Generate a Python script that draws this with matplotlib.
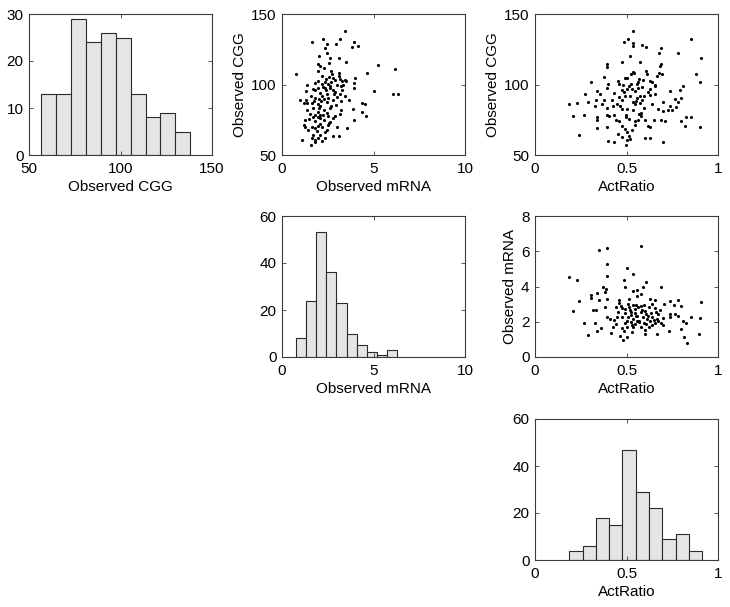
import matplotlib
matplotlib.use("Agg")
import matplotlib.pyplot as plt
import numpy as np

plt.rcParams['font.family'] = ['Liberation Sans', 'DejaVu Sans']

# ---------------- Data ----------------
cgg_label = "Observed CGG"
mrna_label = "Observed mRNA"
act_label = "ActRatio"

cgg_edges = [56.7, 64.9, 73.0, 81.2, 89.3, 97.5, 105.6, 113.7, 121.8, 129.9, 138.0]
cgg_counts = [13, 13, 29, 24, 26, 25, 13, 8, 9, 5]

mrna_edges = [0.74, 1.30, 1.86, 2.41, 2.97, 3.53, 4.08, 4.64, 5.19, 5.75, 6.30]
mrna_counts = [8, 24, 53, 36, 23, 10, 5, 2, 1, 3]

act_edges = [0.187, 0.260, 0.332, 0.405, 0.477, 0.550, 0.622, 0.695, 0.768, 0.840, 0.913]
act_counts = [4, 6, 18, 15, 47, 29, 22, 9, 11, 4]

# scatter: Observed mRNA (x) vs Observed CGG (y)
mrna_cgg_x = [3.42, 3.19, 2.25, 1.63, 3.95, 2.48, 2.95, 2.36, 3.84, 4.18, 2.01, 2.45, 3.12, 3.51, 2.59,
              1.99, 2.05, 5.25, 6.20, 4.67, 1.99, 2.68, 2.74, 3.10, 0.76, 2.19, 2.57, 2.81, 2.92, 3.17,
              3.42, 4.00, 1.94, 1.38, 1.83, 2.36, 2.54, 2.70, 3.28, 3.51, 2.99, 3.24, 3.95, 2.25, 2.37,
              2.63, 1.97, 1.78, 2.41, 2.77, 1.30, 3.95, 5.04, 6.07, 6.32, 2.08, 2.48, 2.84, 3.19, 1.61,
              2.17, 2.52, 1.83, 2.28, 3.44, 0.96, 1.29, 2.01, 2.81, 3.68, 1.18, 1.39, 1.63, 1.94, 2.46,
              3.22, 4.35, 4.53, 2.08, 2.63, 2.95, 1.68, 3.89, 3.21, 2.32, 1.38, 1.94, 4.35, 1.52, 1.83,
              2.05, 2.25, 2.52, 3.17, 4.59, 1.68, 1.94, 2.10, 2.81, 1.47, 1.25, 3.93, 1.78, 2.32, 2.63,
              1.18, 1.63, 1.94, 2.19, 2.52, 1.27, 1.81, 2.99, 3.57, 1.41, 1.90, 2.45, 2.81, 3.13, 1.72,
              2.08, 1.12, 1.63, 1.83, 2.37, 1.79, 2.17, 1.58, 1.99,
              2.20, 2.60, 2.40, 2.90, 3.00, 2.15, 2.70, 2.45, 2.00, 1.75, 2.90, 2.55, 3.30, 3.10, 2.30,
              2.65, 3.35, 1.70, 2.05, 2.35]
mrna_cgg_y = [138.1, 132.2, 132.2, 130.0, 130.3, 128.4, 128.4, 126.2, 126.5, 127.2, 120.1, 122.0, 119.1, 116.0, 115.6,
              114.8, 113.0, 114.1, 111.0, 108.2, 109.6, 109.6, 107.2, 108.2, 107.2, 105.8, 105.3, 104.4, 103.2, 103.7,
              103.0, 104.9, 102.3, 99.9, 101.1, 102.0, 100.1, 101.8, 102.3, 102.5, 99.4, 98.7, 100.8, 98.2, 97.7,
              97.7, 97.5, 95.8, 96.3, 96.3, 95.1, 97.7, 95.1, 93.0, 93.0, 93.9, 93.0, 93.5, 93.5, 92.0,
              91.6, 90.6, 90.6, 89.7, 91.8, 89.2, 88.7, 89.7, 88.7, 89.2, 86.8, 86.8, 86.8, 85.9, 87.3,
              88.0, 86.8, 85.9, 84.4, 83.5, 85.2, 83.0, 82.5, 82.0, 81.6, 82.0, 80.2, 80.2, 79.2, 78.7,
              78.3, 78.7, 77.8, 79.2, 77.8, 76.8, 76.8, 75.9, 76.4, 75.4, 74.5, 74.9, 74.0, 74.9, 73.5,
              71.1, 70.2, 70.7, 70.2, 71.1, 69.7, 69.2, 70.2, 69.0, 67.6, 67.3, 67.8, 63.8, 63.8, 64.5,
              64.0, 60.9, 62.1, 60.7, 62.1, 59.0, 60.0, 56.9, 62.1,
              100.5, 99.0, 104.0, 95.0, 91.0, 88.0, 85.0, 80.0, 83.0, 88.0, 78.0, 73.0, 96.0, 106.0, 112.0,
              119.0, 100.0, 97.0, 72.0, 66.0]

# scatter: ActRatio (x) vs Observed CGG (y)
act_cgg_x = [0.538, 0.509, 0.487, 0.536, 0.535, 0.587, 0.607, 0.687, 0.851, 0.909, 0.678, 0.780, 0.518, 0.476, 0.576,
             0.396, 0.396, 0.687, 0.682, 0.533, 0.540, 0.525, 0.605, 0.613, 0.693, 0.667, 0.678, 0.878, 0.375, 0.491,
             0.500, 0.455, 0.589, 0.627, 0.642, 0.562, 0.307, 0.902, 0.400, 0.458, 0.525, 0.555, 0.656, 0.391, 0.516,
             0.529, 0.562, 0.587, 0.627, 0.658, 0.809, 0.338, 0.273, 0.433, 0.473, 0.489, 0.547, 0.736, 0.791, 0.353,
             0.493, 0.573, 0.598, 0.629, 0.655, 0.378, 0.420, 0.460, 0.478, 0.556, 0.587, 0.764, 0.800, 0.335, 0.187,
             0.227, 0.290, 0.327, 0.364, 0.427, 0.465, 0.535, 0.549, 0.576, 0.640, 0.698, 0.782, 0.396, 0.473, 0.502,
             0.593, 0.673, 0.727, 0.749, 0.735, 0.771, 0.396, 0.405, 0.433, 0.571, 0.580, 0.498, 0.700, 0.538, 0.209,
             0.269, 0.338, 0.338, 0.496, 0.513, 0.440, 0.458, 0.545, 0.562, 0.649, 0.687, 0.709, 0.800, 0.824, 0.851,
             0.820, 0.900, 0.338, 0.396, 0.478, 0.549, 0.616, 0.629, 0.493, 0.502, 0.240, 0.451, 0.476, 0.511, 0.398,
             0.429, 0.500, 0.520, 0.600, 0.629, 0.498, 0.700,
             0.550, 0.520, 0.580, 0.500, 0.620, 0.450, 0.570, 0.600, 0.530, 0.480]
act_cgg_y = [138.1, 132.4, 130.0, 129.6, 127.2, 128.1, 126.7, 126.2, 132.2, 119.1, 122.0, 122.0, 120.1, 115.8, 116.0,
             114.4, 112.5, 114.8, 112.9, 109.1, 108.2, 107.2, 109.6, 107.7, 107.7, 106.3, 108.2, 107.2, 105.3, 104.9,
             104.4, 102.5, 103.4, 102.5, 102.0, 101.5, 102.0, 101.5, 100.1, 100.1, 100.1, 100.6, 99.6, 97.7, 98.7,
             96.8, 97.7, 98.2, 96.8, 98.7, 99.2, 95.4, 93.0, 93.9, 95.8, 94.4, 95.4, 95.4, 96.3, 93.0,
             92.0, 92.0, 91.6, 92.5, 93.0, 89.2, 89.2, 91.1, 88.7, 90.6, 88.7, 89.7, 90.1, 88.7, 85.9,
             86.8, 87.3, 84.9, 86.3, 84.4, 84.9, 87.3, 85.9, 86.8, 85.9, 87.8, 87.8, 83.5, 82.5, 82.5,
             83.0, 82.5, 82.0, 82.0, 84.4, 83.9, 78.7, 77.8, 78.3, 79.2, 77.8, 78.3, 81.1, 81.6, 77.8,
             78.7, 76.8, 74.9, 76.8, 75.4, 74.9, 74.0, 74.0, 74.5, 74.9, 74.5, 74.0, 74.0, 76.8, 76.8,
             70.9, 69.7, 68.8, 69.7, 70.7, 71.6, 70.9, 69.7, 68.5, 66.2, 64.0, 65.0, 63.1, 63.5, 59.7,
             59.0, 60.7, 61.2, 62.1, 62.1, 57.1, 59.0,
             88.0, 92.0, 80.0, 97.0, 95.0, 86.0, 104.0, 75.0, 68.0, 100.0]

# scatter: ActRatio (x) vs Observed mRNA (y)
act_mrna_x = [0.578, 0.349, 0.396, 0.396, 0.500, 0.396, 0.187, 0.227, 0.538, 0.487, 0.607, 0.373, 0.389, 0.493, 0.589,
              0.687, 0.533, 0.555, 0.580, 0.338, 0.307, 0.307, 0.380, 0.240, 0.347, 0.396, 0.458, 0.516, 0.555, 0.629,
              0.656, 0.738, 0.782, 0.909, 0.460, 0.509, 0.536, 0.598, 0.640, 0.705, 0.758, 0.800, 0.209, 0.318, 0.336,
              0.382, 0.440, 0.476, 0.493, 0.515, 0.544, 0.565, 0.587, 0.622, 0.656, 0.682, 0.456, 0.491, 0.525, 0.549,
              0.578, 0.607, 0.636, 0.660, 0.736, 0.765, 0.782, 0.851, 0.900, 0.396, 0.409, 0.429, 0.447, 0.478, 0.509,
              0.536, 0.560, 0.591, 0.611, 0.638, 0.664, 0.700, 0.736, 0.269, 0.327, 0.493, 0.522, 0.545, 0.569, 0.595,
              0.627, 0.655, 0.673, 0.689, 0.827, 0.809, 0.360, 0.427, 0.478, 0.500, 0.538, 0.578, 0.622, 0.702, 0.800,
              0.340, 0.418, 0.487, 0.529, 0.602, 0.731, 0.505, 0.462, 0.289, 0.669, 0.815, 0.898, 0.482, 0.831, 0.609,
              0.640, 0.555, 0.527,
              0.520, 0.550, 0.600, 0.570, 0.620, 0.500, 0.530, 0.580, 0.650, 0.470, 0.440, 0.670, 0.550, 0.600]
act_mrna_y = [6.29, 6.06, 6.19, 5.27, 5.06, 4.59, 4.55, 4.35, 4.69, 4.35, 4.23, 3.99, 3.88, 3.95, 3.95,
              3.95, 3.74, 3.80, 3.56, 3.61, 3.50, 3.35, 3.69, 3.16, 3.24, 3.27, 3.24, 3.31, 3.46, 3.31,
              3.22, 3.16, 3.24, 3.14, 3.08, 3.01, 2.93, 2.93, 2.99, 3.01, 2.95, 2.90, 2.61, 2.65, 2.65,
              2.86, 2.82, 2.78, 2.71, 2.82, 2.75, 2.82, 2.67, 2.82, 2.78, 2.67, 2.54, 2.48, 2.56, 2.48,
              2.56, 2.44, 2.48, 2.56, 2.44, 2.44, 2.33, 2.26, 2.22, 2.29, 2.18, 2.11, 2.26, 2.26, 2.29,
              2.18, 2.33, 2.26, 2.14, 2.29, 2.18, 2.22, 2.26, 1.95, 1.95, 1.95, 1.99, 1.88, 2.03, 1.92,
              2.03, 1.95, 2.07, 1.92, 1.95, 2.03, 1.65, 1.73, 1.65, 1.73, 1.69, 1.73, 1.69, 1.80, 1.61,
              1.45, 1.37, 1.46, 1.41, 1.31, 1.50, 1.16, 1.20, 1.24, 1.28, 1.16, 1.30, 0.98, 0.77, 1.88,
              1.80, 2.07, 2.41,
              2.65, 2.30, 2.60, 2.00, 2.35, 2.05, 1.80, 2.90, 2.10, 2.90, 1.90, 2.45, 2.95, 1.55]

# ---------------- Figure ----------------
W, H = 730, 607
fig = plt.figure(figsize=(W / 100, H / 100), dpi=100)

col_left = [29, 282, 535]
row_top = [14, 216, 419]
aw, ah = 183, 141

spine_col = '#3c3c3c'
fs = 11


def make_ax(r, c):
    ax = fig.add_axes([col_left[c] / W, 1 - (row_top[r] + ah) / H, aw / W, ah / H])
    for s in ax.spines.values():
        s.set_color(spine_col)
        s.set_linewidth(0.8)
    ax.tick_params(direction='in', top=True, right=True, length=3, width=0.6,
                   color=spine_col, labelsize=fs)
    ax.tick_params(axis='x', pad=5)
    ax.tick_params(axis='y', pad=4)
    return ax


def hist_ax(ax, edges, counts):
    edges = np.asarray(edges)
    ax.bar(edges[:-1], counts, width=np.diff(edges), align='edge',
           color='#e5e5e5', edgecolor='#2a2a2a', linewidth=0.8)


# Row 0
ax = make_ax(0, 0)
hist_ax(ax, cgg_edges, cgg_counts)
ax.set_xlim(50, 150); ax.set_ylim(0, 30)
ax.set_xticks([50, 100, 150]); ax.set_yticks([0, 10, 20, 30])
ax.set_xlabel(cgg_label, fontsize=fs, labelpad=3)

ax = make_ax(0, 1)
ax.scatter(mrna_cgg_x, mrna_cgg_y, s=5, c='black', linewidths=0)
ax.set_xlim(0, 10); ax.set_ylim(50, 150)
ax.set_xticks([0, 5, 10]); ax.set_yticks([50, 100, 150])
ax.set_xlabel(mrna_label, fontsize=fs, labelpad=3)
ax.set_ylabel(cgg_label, fontsize=fs, labelpad=3)

ax = make_ax(0, 2)
ax.scatter(act_cgg_x, act_cgg_y, s=5, c='black', linewidths=0)
ax.set_xlim(0, 1); ax.set_ylim(50, 150)
ax.set_xticks([0, 0.5, 1]); ax.set_xticklabels(['0', '0.5', '1'])
ax.set_yticks([50, 100, 150])
ax.set_xlabel(act_label, fontsize=fs, labelpad=3)
ax.set_ylabel(cgg_label, fontsize=fs, labelpad=3)

# Row 1
ax = make_ax(1, 1)
hist_ax(ax, mrna_edges, mrna_counts)
ax.set_xlim(0, 10); ax.set_ylim(0, 60)
ax.set_xticks([0, 5, 10]); ax.set_yticks([0, 20, 40, 60])
ax.set_xlabel(mrna_label, fontsize=fs, labelpad=3)

ax = make_ax(1, 2)
ax.scatter(act_mrna_x, act_mrna_y, s=5, c='black', linewidths=0)
ax.set_xlim(0, 1); ax.set_ylim(0, 8)
ax.set_xticks([0, 0.5, 1]); ax.set_xticklabels(['0', '0.5', '1'])
ax.set_yticks([0, 2, 4, 6, 8])
ax.set_xlabel(act_label, fontsize=fs, labelpad=3)
ax.set_ylabel(mrna_label, fontsize=fs, labelpad=3)

# Row 2
ax = make_ax(2, 2)
hist_ax(ax, act_edges, act_counts)
ax.set_xlim(0, 1); ax.set_ylim(0, 60)
ax.set_xticks([0, 0.5, 1]); ax.set_xticklabels(['0', '0.5', '1'])
ax.set_yticks([0, 20, 40, 60])
ax.set_xlabel(act_label, fontsize=fs, labelpad=3)

fig.savefig('out.png', dpi=100)
